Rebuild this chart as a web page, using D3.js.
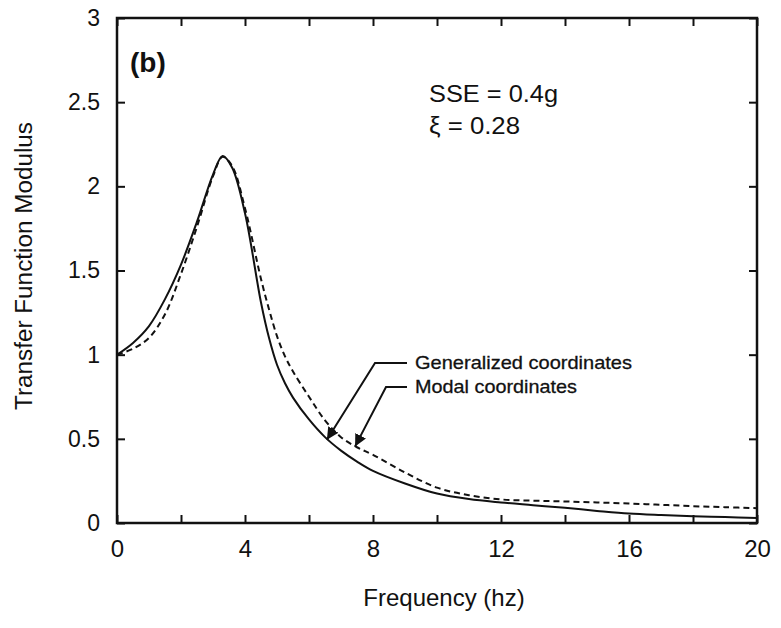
<!DOCTYPE html>
<html>
<head>
<meta charset="utf-8">
<script src="https://cdn.jsdelivr.net/npm/d3@7"></script>
<style>
  body { margin: 0; background: #fff; }
  svg { font-family: "Liberation Sans", Arial, Helvetica, sans-serif; }
</style>
</head>
<body>
<div id="chart"></div>
<script>
// frequency grid (hz) shared by both curves
const freq = [0, 0.5, 1, 1.5, 2, 2.5, 3, 3.3, 3.6, 4, 4.5, 4.75, 5, 5.25, 5.5, 6, 6.5, 7, 7.5, 8, 9, 10, 11, 12, 13, 14, 15, 16, 17, 18, 19, 20];
// transfer function modulus
const generalized = [1.00, 1.07, 1.17, 1.33, 1.535, 1.79, 2.07, 2.18, 2.11, 1.84, 1.31, 1.10, 0.94, 0.83, 0.745, 0.615, 0.51, 0.43, 0.365, 0.31, 0.235, 0.175, 0.142, 0.122, 0.106, 0.09, 0.072, 0.056, 0.047, 0.04, 0.035, 0.03];
const modal = [1.00, 1.035, 1.10, 1.24, 1.48, 1.76, 2.06, 2.175, 2.12, 1.87, 1.45, 1.27, 1.11, 0.99, 0.90, 0.75, 0.61, 0.51, 0.45, 0.405, 0.30, 0.21, 0.165, 0.14, 0.133, 0.128, 0.122, 0.116, 0.108, 0.10, 0.094, 0.088];

const xTicks = d3.range(0, 21, 2);
const yTicks = [0, 0.5, 1, 1.5, 2, 2.5, 3];
const xLabels = [0, 4, 8, 12, 16, 20];

const width = 781, height = 628;
const margin = {top: 18, right: 24, bottom: 105, left: 117};

const svg = d3.select('#chart')
  .append('svg')
    .attr('width', width)
    .attr('height', height);

const x = d3.scaleLinear()
  .domain([0, 20])
  .range([margin.left, width - margin.right]);

const y = d3.scaleLinear()
  .domain([0, 3])
  .range([height - margin.bottom, margin.top]);

const ink = '#111';

// axes, ticks pointing inward
const axBottom = svg.append('g')
  .attr('transform', `translate(0,${y(0)})`)
  .call(d3.axisBottom(x).tickValues(xTicks).tickSize(-8).tickPadding(17)
    .tickFormat(d => xLabels.includes(d) ? d : ''));

const axTop = svg.append('g')
  .attr('transform', `translate(0,${y(3)})`)
  .call(d3.axisTop(x).tickValues(xTicks).tickSize(-8).tickFormat(''));

const axLeft = svg.append('g')
  .attr('transform', `translate(${x(0)},0)`)
  .call(d3.axisLeft(y).tickValues(yTicks).tickSize(-8).tickPadding(17).tickFormat(d => d));

const axRight = svg.append('g')
  .attr('transform', `translate(${x(20)},0)`)
  .call(d3.axisRight(y).tickValues(yTicks).tickSize(-8).tickFormat(''));

[axBottom, axTop, axLeft, axRight].forEach(g => {
  g.select('.domain').remove();
  g.selectAll('line').attr('stroke', ink).attr('stroke-width', 2);
  g.selectAll('text').attr('fill', ink);
  g.attr('font-family', null);
});
axBottom.selectAll('text').attr('font-size', 24);
axLeft.selectAll('text').attr('font-size', 23);

svg.append('rect')
  .attr('x', x(0))
  .attr('y', y(3))
  .attr('width', x(20) - x(0))
  .attr('height', y(0) - y(3))
  .attr('fill', 'none')
  .attr('stroke', ink)
  .attr('stroke-width', 2.5);

// curves
const line = (vals) => d3.line()
  .x((d, i) => x(freq[i]))
  .y(d => y(d))
  .curve(d3.curveCatmullRom.alpha(0.5))(vals);

svg.append('path')
  .attr('d', line(modal))
  .attr('fill', 'none')
  .attr('stroke', ink)
  .attr('stroke-width', 2)
  .attr('stroke-dasharray', '6,4');

svg.append('path')
  .attr('d', line(generalized))
  .attr('fill', 'none')
  .attr('stroke', ink)
  .attr('stroke-width', 2);

// axis titles
svg.append('text')
  .attr('x', 444)
  .attr('y', 606)
  .attr('text-anchor', 'middle')
  .attr('font-size', 24)
  .attr('fill', ink)
  .text('Frequency (hz)');

svg.append('text')
  .attr('transform', 'translate(32,266) rotate(-90)')
  .attr('text-anchor', 'middle')
  .attr('font-size', 23)
  .attr('fill', ink)
  .attr('textLength', 288)
  .attr('lengthAdjust', 'spacingAndGlyphs')
  .text('Transfer Function Modulus');

// annotations
svg.append('text')
  .attr('x', 130)
  .attr('y', 72)
  .attr('font-size', 28)
  .attr('font-weight', 'bold')
  .attr('fill', ink)
  .text('(b)');

svg.append('text')
  .attr('x', 429)
  .attr('y', 102)
  .attr('font-size', 24)
  .attr('fill', ink)
  .attr('textLength', 129)
  .attr('lengthAdjust', 'spacingAndGlyphs')
  .text('SSE = 0.4g');

svg.append('text')
  .attr('x', 429)
  .attr('y', 134)
  .attr('font-size', 24)
  .attr('fill', ink)
  .attr('textLength', 91)
  .attr('lengthAdjust', 'spacingAndGlyphs')
  .text('ξ = 0.28');

svg.append('defs').append('marker')
  .attr('id', 'arrow')
  .attr('viewBox', '0 0 10 10')
  .attr('refX', 10)
  .attr('refY', 5)
  .attr('markerWidth', 6)
  .attr('markerHeight', 6)
  .attr('markerUnits', 'strokeWidth')
  .attr('orient', 'auto')
  .append('path')
    .attr('d', 'M0,0L10,5L0,10z')
    .attr('fill', ink);

const callouts = [
  {label: 'Generalized coordinates', ty: 369, ly: 363, elbow: 375, tip: [x(6.56), y(0.495)], len: 217},
  {label: 'Modal coordinates', ty: 393, ly: 387, elbow: 386, tip: [x(7.44), y(0.455)], len: 162}
];

callouts.forEach(c => {
  svg.append('path')
    .attr('d', `M407,${c.ly}L${c.elbow},${c.ly}L${c.tip[0]},${c.tip[1]}`)
    .attr('fill', 'none')
    .attr('stroke', ink)
    .attr('stroke-width', 2)
    .attr('marker-end', 'url(#arrow)');

  svg.append('text')
    .attr('x', 415)
    .attr('y', c.ty)
    .attr('font-size', 19)
    .attr('fill', ink)
    .attr('stroke', ink)
    .attr('stroke-width', 0.3)
    .attr('textLength', c.len)
    .attr('lengthAdjust', 'spacingAndGlyphs')
    .text(c.label);
});
</script>
</body>
</html>
